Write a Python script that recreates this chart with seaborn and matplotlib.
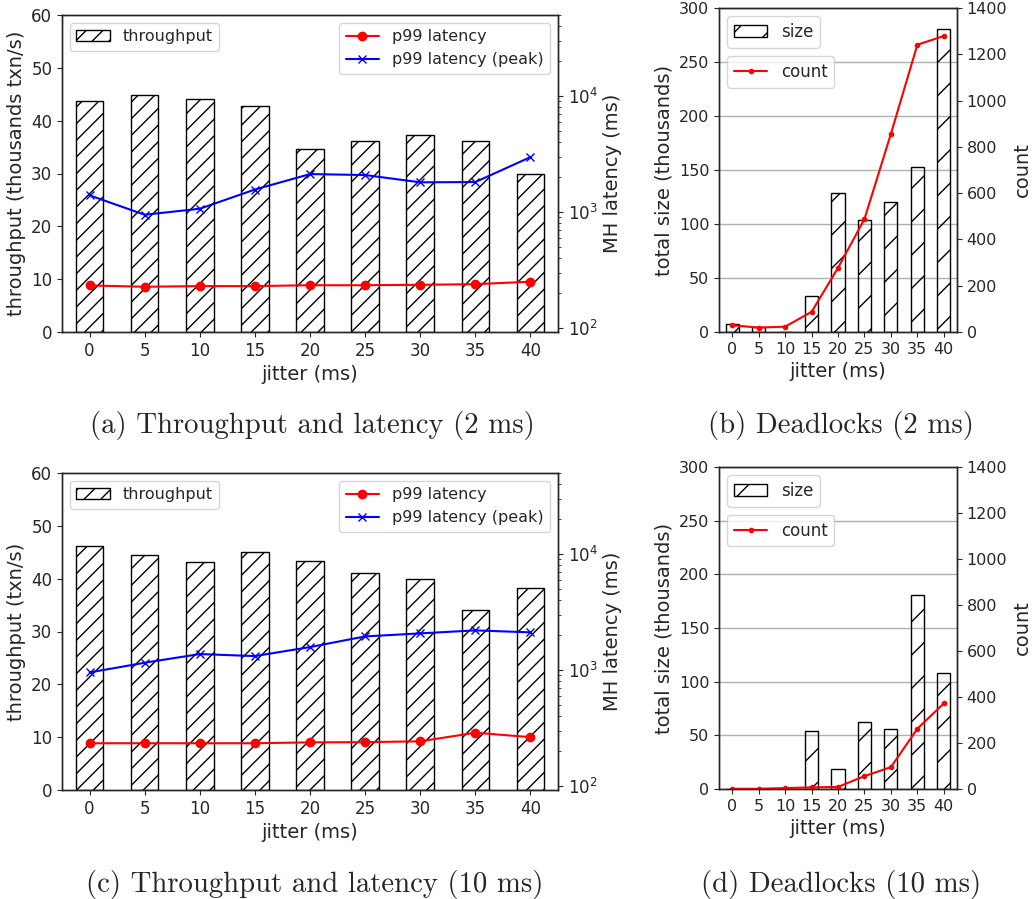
import numpy as np
import matplotlib
matplotlib.use("Agg")
import matplotlib.pyplot as plt
import seaborn as sns

sns.set_style("ticks")
plt.rcParams["font.family"] = ["DejaVu Sans"]
plt.rcParams["axes.linewidth"] = 1.0
plt.rcParams["xtick.direction"] = "out"
plt.rcParams["ytick.direction"] = "out"

# ---- data -------------------------------------------------------------
jitter = [0, 5, 10, 15, 20, 25, 30, 35, 40]

# 2 ms base latency
tput_2ms = [43.7, 44.8, 44.1, 42.7, 34.6, 36.1, 37.2, 36.2, 29.9]
p99_2ms = [232, 226, 229, 229, 233, 233, 235, 238, 250]
p99_peak_2ms = [1390, 945, 1065, 1560, 2120, 2080, 1800, 1810, 2970]
dl_size_2ms = [7.7, 4.6, 0.0, 33.7, 128.4, 103.6, 120.6, 152.8, 280.5]
dl_count_2ms = [29, 19, 23, 87, 277, 488, 856, 1241, 1279]

# 10 ms base latency
tput_10ms = [46.2, 44.5, 43.2, 45.1, 43.3, 41.0, 39.9, 34.1, 38.2]
p99_10ms = [233, 233, 233, 233, 237, 238, 242, 287, 263]
p99_peak_10ms = [951, 1153, 1370, 1316, 1574, 1945, 2066, 2193, 2108]
dl_size_10ms = [0.0, 0.0, 0.0, 54.5, 18.9, 62.3, 55.8, 180.7, 108.2]
dl_count_10ms = [1, 1, 4, 7, 9, 56, 95, 262, 372]

captions = [
    "(a) Throughput and latency (2 ms)",
    "(b) Deadlocks (2 ms)",
    "(c) Throughput and latency (10 ms)",
    "(d) Deadlocks (10 ms)",
]

W, H = 1032, 899
fig = plt.figure(figsize=(W / 100, H / 100), dpi=100)


def px_axes(left, top, right, bottom):
    return fig.add_axes([left / W, 1 - bottom / H, (right - left) / W, (bottom - top) / H])


LABEL = 14


def throughput_panel(ax, tput, p99, peak, ylabel):
    sns.barplot(x=jitter, y=tput, ax=ax, color="black", fill=False, hatch="//",
                width=0.5, linewidth=1.0, errorbar=None)
    ax.set_ylim(0, 60)
    ax.set_yticks(range(0, 61, 10))
    ax.set_xlabel("jitter (ms)", fontsize=LABEL)
    ax.set_ylabel(ylabel, fontsize=LABEL)
    ax.tick_params(labelsize=12)
    ax.legend(handles=[ax.patches[0]], labels=["throughput"], loc="upper left",
              fontsize=11.5, handlelength=2.1)

    ax2 = ax.twinx()
    sns.pointplot(x=jitter, y=p99, ax=ax2, color="red", markers="o", linestyles="-",
                  errorbar=None, linewidth=1.5, markersize=6, markeredgewidth=1.0)
    sns.pointplot(x=jitter, y=peak, ax=ax2, color="blue", markers="x", linestyles="-",
                  errorbar=None, linewidth=1.5, markersize=5.5, markeredgewidth=1.0)
    ax2.set_yscale("log")
    ax2.set_ylim(92, 5e4)
    ax2.set_xlim(-0.5, len(jitter) - 0.5)
    ax2.set_ylabel("MH latency (ms)", fontsize=LABEL)
    ax2.tick_params(labelsize=12)
    ax2.legend(handles=ax2.lines[:2], labels=["p99 latency", "p99 latency (peak)"],
               loc="upper right", fontsize=11.5, handlelength=2.1)


def deadlock_panel(ax, size, count):
    ax.set_axisbelow(True)
    sns.barplot(x=jitter, y=size, ax=ax, color="black", fill=False, hatch="/",
                width=0.5, linewidth=1.0, errorbar=None)
    ax.yaxis.grid(True, color="#b0b0b0", linewidth=1.0)
    ax.set_ylim(0, 300)
    ax.set_yticks(range(0, 301, 50))
    ax.set_xlabel("jitter (ms)", fontsize=LABEL)
    ax.set_ylabel("total size (thousands)", fontsize=LABEL)
    ax.tick_params(labelsize=11.5)
    ax.legend(handles=[ax.patches[0]], labels=["size"], loc="upper left", fontsize=12)

    ax2 = ax.twinx()
    sns.pointplot(x=jitter, y=count, ax=ax2, color="red", markers=".", linestyles="-",
                  errorbar=None, linewidth=1.5, markersize=6, markeredgewidth=1.0)
    ax2.set_ylim(0, 1400)
    ax2.set_yticks(range(0, 1401, 200))
    ax2.set_xlim(-0.5, len(jitter) - 0.5)
    ax2.set_ylabel("count", fontsize=LABEL)
    ax2.tick_params(labelsize=11.5)
    ax2.legend(handles=ax2.lines[:1], labels=["count"], loc="upper left",
               bbox_to_anchor=(0, 0.877), fontsize=12)


ax_a = px_axes(62, 15, 558, 332)
throughput_panel(ax_a, tput_2ms, p99_2ms, p99_peak_2ms, "throughput (thousands txn/s)")

ax_b = px_axes(719, 8, 957, 332)
deadlock_panel(ax_b, dl_size_2ms, dl_count_2ms)

ax_c = px_axes(62, 473, 558, 790)
throughput_panel(ax_c, tput_10ms, p99_10ms, p99_peak_10ms, "throughput (txn/s)")

ax_d = px_axes(719, 467, 957, 789)
deadlock_panel(ax_d, dl_size_10ms, dl_count_10ms)

cap_pos = [(312, 425), (841, 425), (315, 884), (841, 884)]
for text, (cx, cy) in zip(captions, cap_pos):
    fig.text(cx / W, 1 - cy / H, text, family="cmr10", fontsize=20.7,
             ha="center", va="center")

fig.savefig("out.png", dpi=100)
